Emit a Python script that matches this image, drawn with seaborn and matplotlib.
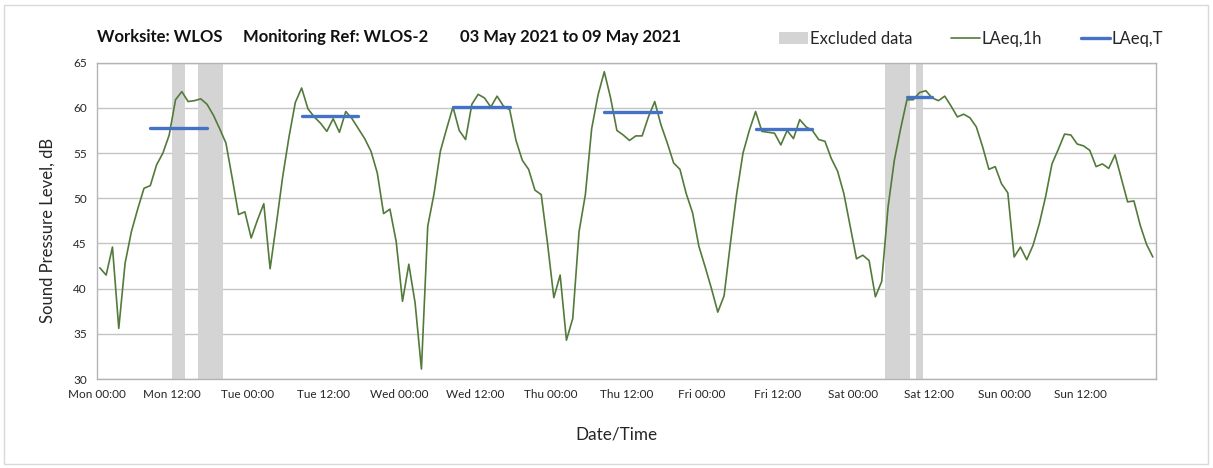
import numpy as np
import pandas as pd
import matplotlib
matplotlib.use("Agg")
import matplotlib.pyplot as plt
import matplotlib.dates as mdates
from matplotlib.patches import Patch, Rectangle
from matplotlib.lines import Line2D
from matplotlib.ticker import FuncFormatter
import seaborn as sns

# Hourly LAeq,1h values, 03 May 2021 00:00 onwards (one value per hour)
laeq_1h = [
    42.3, 41.5, 44.6, 35.6, 42.8, 46.3, 48.8, 51.1, 51.4, 53.7,
    55.0, 57.0, 60.9, 61.8, 60.7, 60.8, 61.0, 60.4, 59.2, 57.7,
    56.1, 52.2, 48.2, 48.5, 45.6, 47.6, 49.4, 42.2, 47.2, 52.4,
    56.8, 60.6, 62.2, 59.9, 59.0, 58.3, 57.4, 58.8, 57.3, 59.6,
    58.8, 57.7,
    56.6, 55.2, 52.8, 48.3, 48.8, 45.2, 38.6, 42.7, 38.4, 31.1,
    46.9, 50.5, 55.2, 57.7, 60.1, 57.5, 56.5, 60.4, 61.5, 61.1,
    60.1, 61.3, 60.2, 59.8, 56.4, 54.2, 53.2, 50.9, 50.4, 45.0,
    39.0, 41.5, 34.3, 36.7, 46.3, 50.4, 57.7, 61.4, 64.0, 61.1,
    57.5, 57.0, 56.4, 56.9,
    56.9, 59.0, 60.7, 58.1, 56.1, 53.9, 53.2, 50.5, 48.4, 44.7,
    42.4, 40.0, 37.4, 39.2, 45.0, 50.5, 55.0, 57.5, 59.6, 57.4,
    57.3, 57.2, 55.9, 57.5, 56.6, 58.7, 57.9, 57.5, 56.5, 56.3,
    54.4, 53.0, 50.5, 46.9, 43.3, 43.7, 43.1, 39.1, 40.8, 49.0,
    54.2, 57.7, 60.9, 60.9, 61.7,
    61.9, 61.1, 60.8, 61.3, 60.2, 59.0, 59.3, 58.9, 57.9, 55.7,
    53.2, 53.5, 51.6, 50.6, 43.5, 44.6, 43.2, 44.8, 47.2, 50.2,
    53.8, 55.4, 57.1, 57.0, 56.0, 55.8, 55.3, 53.5, 53.8, 53.3,
    54.8, 52.2, 49.6, 49.7, 47.0, 44.9, 43.5,
]
start_time = "2021-05-03 00:00"
end_time = "2021-05-10 00:00"

# Daytime LAeq,T and the hourly periods (first and last) it covers
laeq_t = [57.8, 59.05, 60.05, 59.5, 57.65, 61.25]
laeq_t_first = ["2021-05-03 08:00", "2021-05-04 08:00", "2021-05-05 08:00",
                "2021-05-06 08:00", "2021-05-07 08:00", "2021-05-08 08:00"]
laeq_t_last = ["2021-05-03 17:00", "2021-05-04 17:00", "2021-05-05 17:00",
               "2021-05-06 17:00", "2021-05-07 17:00", "2021-05-08 12:00"]

# Excluded data periods
excluded_from = ["2021-05-03 12:00", "2021-05-03 16:00", "2021-05-08 05:00", "2021-05-08 10:00"]
excluded_to = ["2021-05-03 14:00", "2021-05-03 20:00", "2021-05-08 09:00", "2021-05-08 11:00"]

y_ticks = [30, 35, 40, 45, 50, 55, 60, 65]

title_parts = ["Worksite: WLOS", "Monitoring Ref: WLOS-2", "03 May 2021 to 09 May 2021"]
title_x = [97, 243, 460]

GREEN = "#527a3a"
BLUE = "#4472c4"
BAND = "#d4d4d4"
TEXT = "#262626"
W, H = 1213, 468

sns.set_theme(style="white")
plt.rcParams["font.family"] = ["Lato", "DejaVu Sans"]

half_hour = pd.Timedelta(minutes=30)
hourly = pd.DataFrame({
    "time": pd.date_range(start_time, periods=len(laeq_1h), freq="h") + half_hour,
    "level": laeq_1h,
})
rows = []
for k, (a, b, v) in enumerate(zip(laeq_t_first, laeq_t_last, laeq_t)):
    rows.append({"period": k, "time": pd.Timestamp(a) + half_hour, "level": v})
    rows.append({"period": k, "time": pd.Timestamp(b) + half_hour, "level": v})
daytime = pd.DataFrame(rows)

fig = plt.figure(figsize=(W / 100, H / 100), dpi=100)
ax = fig.add_axes([96.7 / W, 1 - 379 / H, (1156 - 96.7) / W, (379 - 62.7) / H])

for a, b in zip(excluded_from, excluded_to):
    ax.axvspan(pd.Timestamp(a), pd.Timestamp(b), color=BAND, lw=0, zorder=1)

sns.lineplot(data=hourly, x="time", y="level", color=GREEN, lw=1.2, ax=ax, zorder=3)
sns.lineplot(data=daytime, x="time", y="level", units="period", estimator=None,
             color=BLUE, lw=2.4, ax=ax, zorder=4)

t_end = pd.Timestamp(end_time)
ax.set_xlim(pd.Timestamp(start_time), t_end)
ax.set_ylim(30, 65)
ax.set_yticks(y_ticks)


def time_label(x, pos):
    d = mdates.num2date(x).replace(tzinfo=None)
    if d >= t_end:
        return ""
    return d.strftime("%a %H:%M")


ax.xaxis.set_major_locator(mdates.HourLocator(byhour=[0, 12]))
ax.xaxis.set_major_formatter(FuncFormatter(time_label))
ax.xaxis.set_minor_locator(mdates.DayLocator())
ax.grid(False)
ax.grid(axis="y", which="major", color="#c4c4c4", lw=1.0, zorder=0)
ax.grid(axis="x", which="minor", color="#dcdcdc", lw=1.0, zorder=0)
ax.set_axisbelow(True)

ax.tick_params(axis="both", which="major", direction="out", length=4, width=1,
               color="#a0a0a0", labelsize=8.5, labelcolor=TEXT, pad=3)
ax.tick_params(axis="x", which="minor", length=0)
for s in ax.spines.values():
    s.set_color("#b4b4b4")
    s.set_linewidth(1.0)

ax.set_xlabel("Date/Time", fontsize=12.3, color=TEXT)
ax.set_ylabel("Sound Pressure Level, dB", fontsize=12, color=TEXT)
ax.xaxis.set_label_coords(0.491, -(435 - 379) / (379 - 62.7), transform=ax.transAxes)
ax.yaxis.set_label_coords(-(96.7 - 48) / (1156 - 96.7), 1 - (230 - 62.7) / (379 - 62.7),
                          transform=ax.transAxes)
ax.xaxis.label.set_va("center")
ax.yaxis.label.set_va("center")

for part, x in zip(title_parts, title_x):
    fig.text(x / W, 1 - 37 / H, part, fontsize=12, fontweight="bold",
             color="#111111", va="center", ha="left")

handles = [
    Patch(facecolor=BAND, edgecolor="none"),
    Line2D([], [], color=GREEN, lw=1.2),
    Line2D([], [], color=BLUE, lw=2.4),
]
fig.legend(handles, ["Excluded data", "LAeq,1h", "LAeq,T"], ncol=3, frameon=False,
           loc="center right", bbox_to_anchor=(1163 / W, 1 - 39 / H), fontsize=12,
           handlelength=1.75, handletextpad=0.1, columnspacing=2.3,
           borderpad=0, borderaxespad=0, labelcolor=TEXT)

fig.patches.append(Rectangle((4 / W, 4 / H), 1 - 9 / W, 1 - 9 / H,
                             transform=fig.transFigure, fill=False,
                             edgecolor="#d9d9d9", lw=1.0))

fig.savefig("out.png", dpi=100)
